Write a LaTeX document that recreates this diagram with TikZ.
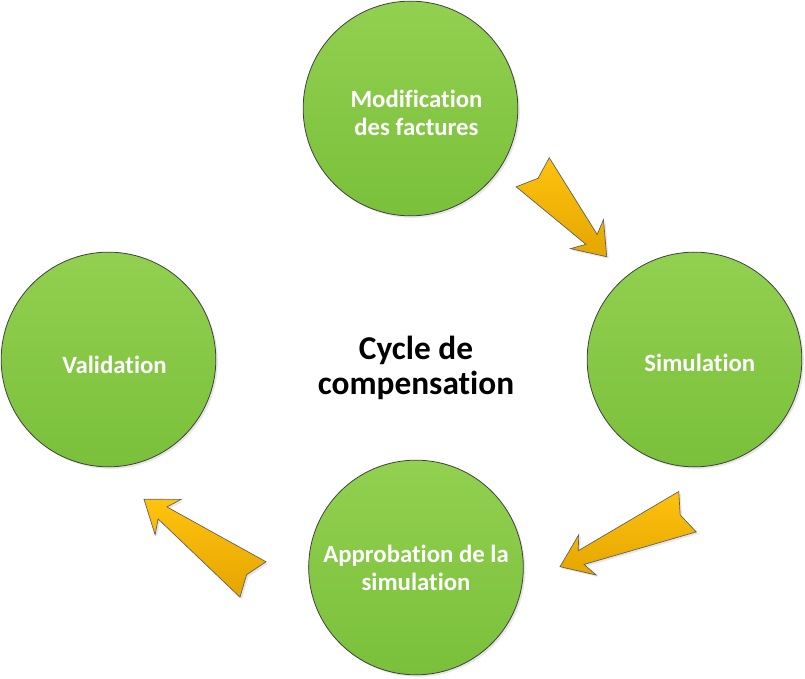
\documentclass[tikz,border=0pt]{standalone}
\usepackage{fontspec}
\setmainfont{Carlito}[Ligatures={NoCommon}]
\usetikzlibrary{calc,shadows}
\definecolor{leafgreen}{RGB}{146,208,80}
\definecolor{deepgreen}{RGB}{122,192,58}
\definecolor{amber}{RGB}{255,194,14}
\definecolor{deepamber}{RGB}{228,166,0}
\definecolor{rim}{RGB}{64,64,64}
\tikzstyle{stage} = [circle, draw=rim, line width=0.6pt, minimum size=161pt, inner sep=0pt,
  top color=leafgreen, bottom color=deepgreen,
  drop shadow={opacity=0.2, shadow xshift=1.5pt, shadow yshift=-1.5pt}]
\tikzstyle{stagetext} = [text=white, align=center, inner sep=0pt,
  font=\bfseries\fontsize{18.6}{21}\selectfont]
\tikzstyle{pointer} = [draw=rim!85, line width=0.5pt, line join=miter,
  top color=amber, bottom color=deepamber,
  drop shadow={opacity=0.2, shadow xshift=1.5pt, shadow yshift=-1.5pt}]
\tikzstyle{title} = [align=center, font=\bfseries\fontsize{25}{26.5}\selectfont]
% block arrow from tail coordinate #1 to tip coordinate #2
\newcommand{\blockarrow}[2]{%
  \draw[pointer] ($(#1)!16.5pt!90:(#2)$) -- ($(#1)!6pt!(#2)$) -- ($(#1)!16.5pt!-90:(#2)$)
    -- ($(#2)!17.25pt!(#1)!5.6pt!90:(#1)$) -- ($(#2)!22.5pt!(#1)!16.5pt!90:(#1)$) -- (#2)
    -- ($(#2)!22.5pt!(#1)!16.5pt!-90:(#1)$) -- ($(#2)!17.25pt!(#1)!5.6pt!-90:(#1)$) -- cycle;}
\begin{document}
\begin{tikzpicture}[x=0.75pt, y=0.75pt]
\useasboundingbox (0,0) rectangle (805,678);
% circles
\node[stage] (modif) at (410.5,569.5) {};
\node[stage] (simul) at (694.5,318.5) {};
\node[stage] (approb) at (416,110.5) {};
\node[stage] (valid) at (108.5,318.5) {};
\node[stagetext] (modiftxt) at ([xshift=4.5pt,yshift=-3pt]modif.center) {Modification\\des factures};
\node[stagetext] (simultxt) at ([xshift=4pt,yshift=-2.5pt]simul.center) {Simulation};
\node[stagetext] (approbtxt) at (approb.center) {Approbation de la\\simulation};
\node[stagetext] (validtxt) at ([xshift=4.5pt,yshift=-4pt]valid.center) {Validation};
\node[title] (cycle) at (416,310) {Cycle de\\compensation};
% arrows
\coordinate (a1t) at (532.7,505.7);
\coordinate (a1h) at (606.7,421.3);
\coordinate (a2t) at (687.5,166.3);
\coordinate (a2h) at (560,111.3);
\coordinate (a3t) at (253,98.5);
\coordinate (a3h) at (144,178.7);
\blockarrow{a1t}{a1h}
\blockarrow{a2t}{a2h}
\blockarrow{a3t}{a3h}
\end{tikzpicture}
\end{document}
